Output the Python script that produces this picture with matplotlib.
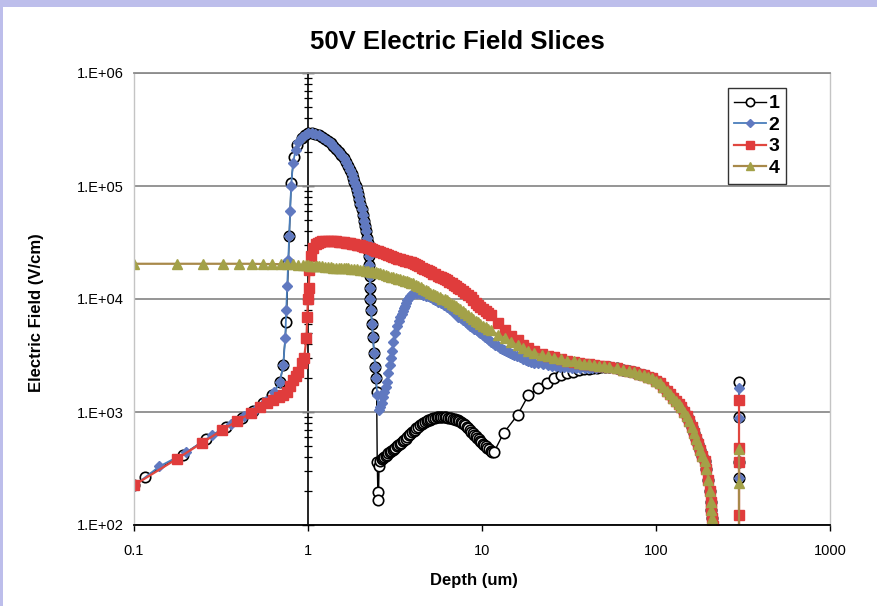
import numpy as np
import matplotlib
matplotlib.use("Agg")
import matplotlib.pyplot as plt
from matplotlib.ticker import FixedLocator, FuncFormatter, LogLocator, NullLocator
from matplotlib.patches import Rectangle

plt.rcParams['font.family'] = ['Liberation Sans', 'DejaVu Sans']

# ---- data (depth in um, field in V/cm) ----
# rising part before the junction, series 1
s1_left_x = [0.1, 0.115, 0.19, 0.26, 0.34, 0.42, 0.48, 0.55, 0.62, 0.69,
             0.72, 0.75, 0.77, 0.78, 0.8, 0.83, 0.87, 0.92, 0.96, 1.0]
s1_left_y = [225, 266, 416, 577, 740, 885, 1020, 1200, 1400, 1840,
             2600, 6200, 21000, 36000, 107000, 180000, 230000, 265000, 285000, 295000]

# rising part, series 2
s2_left_x = [0.1, 0.14, 0.2, 0.28, 0.36, 0.43, 0.5, 0.57, 0.64, 0.69,
             0.72, 0.74, 0.75, 0.76, 0.77, 0.78, 0.79, 0.8, 0.82, 0.85,
             0.88, 0.92, 0.96, 1.0]
s2_left_y = [222, 330, 440, 620, 790, 920, 1060, 1250, 1500, 1840,
             2600, 4500, 8000, 13000, 22000, 36000, 60000, 100000, 160000, 210000,
             245000, 270000, 285000, 295000]

# peak shared by series 1 and 2
peak_x = [1.05, 1.1, 1.15, 1.2, 1.25, 1.3, 1.35, 1.4, 1.45, 1.5,
          1.55, 1.6, 1.65, 1.7, 1.74, 1.78, 1.82, 1.85, 1.88, 1.91,
          1.94, 1.97, 2.0, 2.03, 2.06, 2.09, 2.12, 2.15, 2.18, 2.2,
          2.22, 2.235, 2.25, 2.26, 2.27, 2.28, 2.3, 2.33, 2.36, 2.4,
          2.43, 2.46]
peak_y = [293000, 288000, 281000, 272000, 262000, 251000, 239000, 226000, 213000, 200000,
          188000, 176000, 162000, 149000, 138000, 128000, 118000, 109000, 100000, 92000,
          85000, 77000, 70000, 62000, 55000, 49000, 44000, 40000, 35000, 31500,
          28000, 24000, 20000, 16000, 12500, 10000, 8000, 6000, 4600, 3300,
          2500, 2000]

# series 1: sharp dip after the peak
s1_dip_x = [2.48, 2.5, 2.52, 2.54, 2.56]
s1_dip_y = [1500, 360, 196, 166, 330]

# series 1: hump between 2.6 and 12 um
s1_hump_x = [2.6, 2.65, 2.7, 2.75, 2.8, 2.85, 2.9, 2.95, 3.0, 3.06,
             3.12, 3.18, 3.24, 3.3, 3.37, 3.44, 3.51, 3.58, 3.65, 3.72,
             3.8, 3.88, 3.96, 4.04, 4.12, 4.2, 4.3, 4.4, 4.5, 4.6,
             4.7, 4.8, 4.9, 5.0, 5.12, 5.24, 5.36, 5.48, 5.6, 5.72,
             5.84, 5.96, 6.1, 6.24, 6.38, 6.52, 6.66, 6.8, 6.95, 7.1,
             7.25, 7.4, 7.55, 7.7, 7.85, 8.0, 8.17, 8.34, 8.51, 8.68,
             8.85, 9.02, 9.2, 9.38, 9.56, 9.74, 9.92, 10.1, 10.3, 10.5,
             10.7, 10.95, 11.2, 11.45, 11.7]
s1_hump_y = [370, 380, 390, 400, 410, 420, 430, 440, 448, 460,
             472, 484, 496, 508, 522, 536, 550, 565, 582, 600,
             620, 640, 660, 680, 700, 718, 740, 760, 780, 800,
             815, 830, 845, 858, 870, 880, 890, 897, 900, 902,
             903, 902, 900, 897, 893, 888, 882, 875, 866, 856,
             845, 830, 815, 798, 780, 760, 738, 716, 694, 672,
             652, 632, 612, 592, 574, 557, 541, 526, 511, 496,
             482, 468, 456, 447, 440]

# series 1: recovery toward the common curve
s1_rise_x = [13.3, 16, 18.5, 21, 23.5, 26, 28.5, 31, 33.5, 36,
             38.5, 41, 43.5, 46, 48.5, 51]
s1_rise_y = [650, 940, 1410, 1620, 1800, 2000, 2120, 2220, 2280, 2330,
             2380, 2420, 2450, 2470, 2490, 2500]

# series 2 after the peak
s2_mid_x = [2.5, 2.55, 2.6, 2.65, 2.7, 2.75, 2.8, 2.85, 2.9, 2.95,
            3.0, 3.05, 3.1, 3.17, 3.25, 3.32, 3.39, 3.45, 3.5, 3.55,
            3.6, 3.66, 3.72, 3.8, 3.88, 3.96, 4.05, 4.15, 4.25, 4.35,
            4.45, 4.6, 4.75, 4.9, 5.04, 5.2, 5.4, 5.6, 5.8, 6.05,
            6.3, 6.55, 6.8, 7.05, 7.3, 7.55, 7.8, 8.05, 8.3, 8.55,
            8.8, 9.05, 9.3, 9.55, 9.8, 10.1, 10.4, 10.7, 11.0, 11.3,
            11.6, 11.95, 12.3, 12.65, 13.0, 13.35, 13.7, 14.05, 14.4, 14.8,
            15.2, 15.85, 16.5, 17.15, 17.8, 18.4, 19, 20, 21, 22.4,
            23.8, 25.1, 26.5, 28, 29.5, 31.2, 33, 34.9, 36.8, 38.9,
            41, 43, 45, 47, 49, 51]
s2_mid_y = [1400, 1050, 1100, 1200, 1350, 1500, 1650, 1850, 2200, 2600,
            3000, 3500, 4200, 5000, 5800, 6400, 6900, 7400, 7900, 8300,
            8700, 9300, 9800, 10200, 10700, 11000, 11300, 11350, 11300, 11200,
            11100, 10900, 10700, 10550, 10400, 10100, 9800, 9500, 9200, 8850,
            8500, 8100, 7700, 7350, 7000, 6750, 6500, 6250, 6000, 5800,
            5600, 5450, 5300, 5150, 5000, 4820, 4650, 4500, 4350, 4200,
            4050, 3920, 3800, 3700, 3600, 3520, 3450, 3370, 3300, 3250,
            3200, 3120, 3050, 2970, 2900, 2840, 2780, 2740, 2700, 2650,
            2600, 2575, 2550, 2525, 2500, 2485, 2470, 2460, 2450, 2450,
            2450, 2460, 2470, 2480, 2490, 2500]

# series 3: rise and step at the junction
s3_left_x = [0.1, 0.176, 0.245, 0.32, 0.39, 0.47, 0.53, 0.58, 0.63, 0.68,
             0.72, 0.76, 0.79, 0.82, 0.85, 0.88, 0.92, 0.95, 0.98, 0.99,
             1.0, 1.01, 1.02, 1.04, 1.07]
s3_left_y = [225, 384, 531, 690, 830, 980, 1110, 1200, 1280, 1360,
             1420, 1500, 1700, 1920, 2080, 2260, 2700, 3000, 4500, 7000,
             10000, 12500, 18000, 24000, 28000]

# series 3: plateau and decline
s3_mid_x = [1.11, 1.14, 1.17, 1.2, 1.25, 1.3, 1.35, 1.4, 1.45, 1.5,
            1.55, 1.6, 1.65, 1.7, 1.75, 1.8, 1.85, 1.9, 1.95, 2.0,
            2.05, 2.1, 2.15, 2.2, 2.27, 2.33, 2.4, 2.47, 2.53, 2.6,
            2.7, 2.8, 2.9, 3.0, 3.1, 3.2, 3.3, 3.4, 3.5, 3.6,
            3.7, 3.8, 3.9, 4.0, 4.12, 4.25, 4.37, 4.5, 4.65, 4.8,
            4.95, 5.1, 5.25, 5.4, 5.55, 5.7, 5.85, 6.0, 6.15, 6.3,
            6.5, 6.7, 6.9, 7.1, 7.3, 7.5, 7.75, 8.0, 8.3, 8.6,
            8.9, 9.2, 9.5, 9.8, 10.15, 10.5, 10.85, 11.2]
s3_mid_y = [30500, 31300, 32000, 32300, 32500, 32500, 32500, 32500, 32400, 32200,
            32000, 31800, 31500, 31300, 31000, 30800, 30500, 30300, 30000, 29800,
            29500, 29100, 28800, 28400, 28000, 27600, 27200, 26800, 26400, 26000,
            25500, 25000, 24500, 24000, 23500, 23000, 22700, 22400, 22100, 21800,
            21500, 21200, 21100, 21000, 20500, 20000, 19500, 19000, 18500, 18000,
            17600, 17200, 16800, 16500, 16100, 15800, 15500, 15300, 15000, 14700,
            14200, 13800, 13400, 13000, 12600, 12200, 11700, 11300, 10800, 10400,
            9800, 9300, 8900, 8500, 8100, 7800, 7500, 7200]

s3_right_x = [12.3, 13.5, 14.7, 16, 17.3, 18.5, 19.8, 22, 24, 26,
              28.5, 31, 33.6, 36, 38.5, 41, 44, 47, 50]
s3_right_y = [6100, 5300, 4700, 4300, 3900, 3650, 3500, 3250, 3150, 3080,
              2950, 2850, 2780, 2720, 2680, 2640, 2600, 2570, 2540]

# series 4
s4_left_x = [0.1, 0.176, 0.25, 0.325, 0.4, 0.475, 0.55, 0.625, 0.7, 0.76, 0.82, 0.88]
s4_left_y = [20500, 20500, 20500, 20500, 20500, 20500, 20400, 20400, 20300, 20300, 20200, 20100]

s4_mid_x = [0.94, 0.97, 1.0, 1.03, 1.06, 1.09, 1.12, 1.16, 1.2, 1.25,
            1.3, 1.35, 1.4, 1.45, 1.5, 1.55, 1.6, 1.65, 1.7, 1.77,
            1.85, 1.92, 2.0, 2.07, 2.15, 2.22, 2.3, 2.37, 2.45, 2.52,
            2.6, 2.7, 2.8, 2.9, 3.0, 3.1, 3.2, 3.3, 3.4, 3.5,
            3.6, 3.7, 3.8, 3.9, 4.0, 4.15, 4.3, 4.45, 4.6, 4.75,
            4.9, 5.05, 5.2, 5.35, 5.5, 5.7, 5.9, 6.1, 6.3, 6.5,
            6.7, 6.9, 7.1, 7.3, 7.5, 7.75, 8.0, 8.3, 8.6, 8.9,
            9.2, 9.5, 9.8, 10.15, 10.5, 10.85, 11.2]
s4_mid_y = [20000, 19900, 19800, 19750, 19700, 19650, 19600, 19500, 19400, 19300,
            19200, 19100, 19000, 18950, 18900, 18850, 18800, 18750, 18700, 18550,
            18400, 18250, 18100, 17950, 17800, 17650, 17500, 17350, 17200, 17100,
            17000, 16650, 16300, 16050, 15800, 15550, 15300, 15100, 14900, 14700,
            14500, 14300, 14100, 13950, 13800, 13400, 13000, 12650, 12300, 12000,
            11700, 11400, 11100, 10850, 10600, 10350, 10100, 9900, 9700, 9400,
            9100, 8850, 8600, 8350, 8100, 7800, 7500, 7200, 6900, 6650,
            6400, 6200, 6000, 5800, 5600, 5450, 5300]

s4_right_x = [12.3, 13.5, 14.7, 16, 17.3, 18.5, 19.8, 22, 24, 26,
              28.5, 31, 33.6, 36, 38.5, 41, 44, 47, 50]
s4_right_y = [4850, 4500, 4200, 3900, 3700, 3500, 3350, 3200, 3100, 3020,
              2930, 2850, 2800, 2730, 2680, 2640, 2600, 2570, 2540]

# common tail toward the back contact (all four slices)
tail_x = [53.5, 60, 65, 70, 75, 80, 85, 90, 95, 100,
          105, 110, 115, 120, 125, 130, 135, 140, 145, 150,
          155, 160, 165, 170, 175, 180, 185, 190, 195, 200,
          203, 206, 208, 210, 212, 230]
tail_y = [2500, 2430, 2370, 2310, 2250, 2190, 2130, 2060, 1980, 1900,
          1800, 1680, 1540, 1430, 1340, 1250, 1170, 1100, 1010, 930,
          840, 740, 650, 580, 520, 460, 410, 370, 310, 250,
          200, 160, 135, 115, 98, 1]

# points at the far edge (~300 um)
s1_end_x = [300, 300, 300, 300, 300]
s1_end_y = [1, 260, 360, 900, 1840]
s2_end_x = [300, 300, 300, 300]
s2_end_y = [1, 260, 880, 1630]
s3_end_x = [300, 300, 300, 300, 300]
s3_end_y = [1, 123, 360, 480, 1280]
s4_end_x = [300, 300, 300]
s4_end_y = [1, 235, 470]

labels = ['1', '2', '3', '4']

series = [
    (s1_left_x + peak_x + s1_dip_x + s1_hump_x + s1_rise_x + tail_x + s1_end_x,
     s1_left_y + peak_y + s1_dip_y + s1_hump_y + s1_rise_y + tail_y + s1_end_y),
    (s2_left_x + peak_x + s2_mid_x + tail_x + s2_end_x,
     s2_left_y + peak_y + s2_mid_y + tail_y + s2_end_y),
    (s3_left_x + s3_mid_x + s3_right_x + tail_x + s3_end_x,
     s3_left_y + s3_mid_y + s3_right_y + tail_y + s3_end_y),
    (s4_left_x + s4_mid_x + s4_right_x + tail_x + s4_end_x,
     s4_left_y + s4_mid_y + s4_right_y + tail_y + s4_end_y),
]

styles = [
    dict(color='black', lw=1.0, marker='o', ms=7.5, mfc='white', mec='black', mew=1.2),
    dict(color='#4A7EBB', lw=1.3, marker='D', ms=5, mfc='#6079C0', mec='#6079C0'),
    dict(color='#E0473F', lw=1.6, marker='s', ms=7, mfc='#E03C3C', mec='#E03C3C'),
    dict(color='#A8894A', lw=1.6, marker='^', ms=7.5, mfc='#A3A148', mec='#A3A148'),
]
legend_ms = [6, 4, 5.5, 6]

fig = plt.figure(figsize=(8.77, 6.06), dpi=100)
ax = fig.add_axes([134 / 877, 1 - 525 / 606, (830 - 134) / 877, (525 - 73) / 606])

for (xs, ys), lab, st in zip(series, labels, styles):
    ax.plot(xs, ys, label=lab, **st)

ax.set_xscale('log')
ax.set_yscale('log')
ax.set_xlim(0.1, 1000)
ax.set_ylim(1e2, 1e6)

ax.xaxis.set_major_locator(FixedLocator([0.1, 1, 10, 100, 1000]))
ax.xaxis.set_major_formatter(FuncFormatter(lambda v, p: f"{v:g}"))
ax.xaxis.set_minor_locator(NullLocator())
ax.yaxis.set_major_locator(FixedLocator([1e2, 1e3, 1e4, 1e5, 1e6]))
ax.yaxis.set_major_formatter(FuncFormatter(lambda v, p: f"1.E+{int(round(np.log10(v))):02d}"))
ax.yaxis.set_minor_locator(NullLocator())

ax.tick_params(axis='x', direction='out', length=4, width=1, pad=10, labelsize=10.5)
ax.tick_params(axis='y', length=0, pad=7.5, labelsize=10.5)

ax.set_axisbelow(True)
ax.yaxis.grid(True, which='major', color='#8C8C8C', lw=1.3)

for side in ['left', 'right']:
    ax.spines[side].set_color('#C4C4C4')
    ax.spines[side].set_linewidth(1.0)
ax.spines['top'].set_color('#8C8C8C')
ax.spines['top'].set_linewidth(1.3)
ax.spines['bottom'].set_color('black')
ax.spines['bottom'].set_linewidth(1.3)

# vertical axis crossing at depth = 1 um
sec = ax.secondary_yaxis(0.25)
sec.yaxis.set_major_locator(FixedLocator([1e2, 1e3, 1e4, 1e5, 1e6]))
sec.yaxis.set_minor_locator(LogLocator(base=10, subs=np.arange(2, 10)))
sec.tick_params(which='major', direction='inout', length=8, width=1, labelleft=False)
sec.tick_params(which='minor', direction='inout', length=6, width=0.9, labelleft=False)
sec.spines['left'].set_color('black')
sec.spines['left'].set_linewidth(1.2)

leg = ax.legend(loc='upper right', bbox_to_anchor=(0.937, 0.967), fancybox=False,
                framealpha=1, edgecolor='#333333', handlelength=1.6, handletextpad=0.15,
                labelspacing=0.2, borderpad=0.35, borderaxespad=0,
                prop={'weight': 'bold', 'size': 14})
leg.get_frame().set_linewidth(1.0)
for h, m in zip(leg.legend_handles, legend_ms):
    h.set_markersize(m)

fig.text(457 / 877, 1 - 42 / 606, '50V Electric Field Slices', ha='center', va='center',
         fontsize=18.5, fontweight='bold')
fig.text(37 / 877, 1 - 313 / 606, 'Electric Field (V/cm)', rotation=90, ha='center',
         va='center', fontsize=12, fontweight='bold')
fig.text(474 / 877, 1 - 580 / 606, 'Depth (um)', ha='center', va='center',
         fontsize=12, fontweight='bold')

# lavender frame from the original screenshot
fig.patches.append(Rectangle((0, 1 - 7 / 606), 1, 7 / 606, transform=fig.transFigure,
                             facecolor='#BDBEEB', edgecolor='none', zorder=-1))
fig.patches.append(Rectangle((0, 0), 3 / 877, 1, transform=fig.transFigure,
                             facecolor='#BDBEEB', edgecolor='none', zorder=-1))

fig.savefig('out.png', dpi=100)
